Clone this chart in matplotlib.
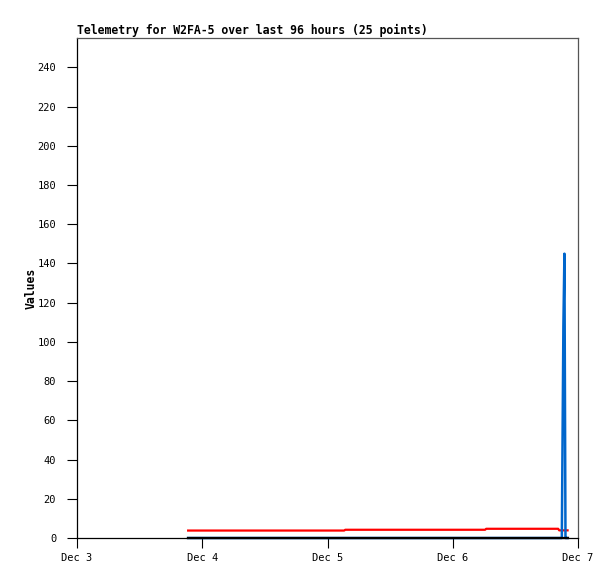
import matplotlib

matplotlib.use("Agg")
import matplotlib.dates as mdates
import matplotlib.pyplot as plt
import pandas as pd

TIMES = [
    "2024-12-03 21:18", "2024-12-04 03:00", "2024-12-04 09:00", "2024-12-04 15:00",
    "2024-12-04 21:00", "2024-12-05 03:12", "2024-12-05 03:24", "2024-12-05 09:00",
    "2024-12-05 15:00", "2024-12-05 21:00", "2024-12-06 03:00", "2024-12-06 06:12",
    "2024-12-06 06:24", "2024-12-06 10:00", "2024-12-06 14:00", "2024-12-06 18:00",
    "2024-12-06 20:12", "2024-12-06 20:24", "2024-12-06 20:54", "2024-12-06 21:00",
    "2024-12-06 21:12", "2024-12-06 21:24", "2024-12-06 21:36", "2024-12-06 21:48",
    "2024-12-06 22:00",
]
RED_VALUES = [3.8, 3.8, 3.8, 3.8, 3.8, 3.8, 4.2, 4.2, 4.2, 4.2, 4.2, 4.2,
              4.7, 4.7, 4.7, 4.7, 4.7, 3.9, 3.9, 3.9, 3.9, 3.9, 3.9, 3.9, 3.9]
BLUE_VALUES = [0, 0, 0, 0, 0, 0, 0, 0, 0, 0, 0, 0,
               0, 0, 0, 0, 0, 0, 0, 36, 108, 145, 0, 0, 0]
BLACK_VALUES = [0] * 25
Y_TICKS = list(range(0, 241, 20))
X_START, X_END = "2024-12-03", "2024-12-07"
TITLE = "Telemetry for W2FA-5 over last 96 hours (25 points)"

FONT = "DejaVu Sans Mono"

times = pd.to_datetime(TIMES)

fig = plt.figure(figsize=(6.15, 5.79), dpi=100)
ax = fig.add_axes([77 / 615, 41 / 579, 501 / 615, 500 / 579])

ax.plot(times, RED_VALUES, color="#ff0000", linewidth=1.6, clip_on=False)
ax.plot(times, BLUE_VALUES, color="#0066cc", linewidth=1.8, clip_on=False)
ax.plot(times, BLACK_VALUES, color="#000000", linewidth=1.6, clip_on=False, zorder=3)

ax.set_xlim(pd.Timestamp(X_START), pd.Timestamp(X_END))
ax.set_ylim(0, 255)
ax.set_yticks(Y_TICKS)
ax.xaxis.set_major_locator(mdates.DayLocator())
ax.xaxis.set_major_formatter(plt.FuncFormatter(lambda v, _: f"{mdates.num2date(v):%b} {mdates.num2date(v).day}"))

ax.tick_params(axis="both", direction="out", length=7, width=0.8, color="black",
               labelsize=7.5, labelfontfamily=FONT)
ax.tick_params(axis="y", pad=8)
ax.tick_params(axis="x", pad=4)

for side in ("left", "bottom"):
    ax.spines[side].set_color("black")
    ax.spines[side].set_linewidth(0.9)
for side in ("top", "right"):
    ax.spines[side].set_color("#555555")
    ax.spines[side].set_linewidth(0.9)

ax.set_ylabel("Values", fontsize=8.3, fontweight="bold", family=FONT)
ax.yaxis.set_label_coords(-0.078, 0.5)
ax.set_title(TITLE, loc="left", fontsize=8.3, fontweight="bold", family=FONT, pad=3)

fig.savefig("out.png", dpi=100)
